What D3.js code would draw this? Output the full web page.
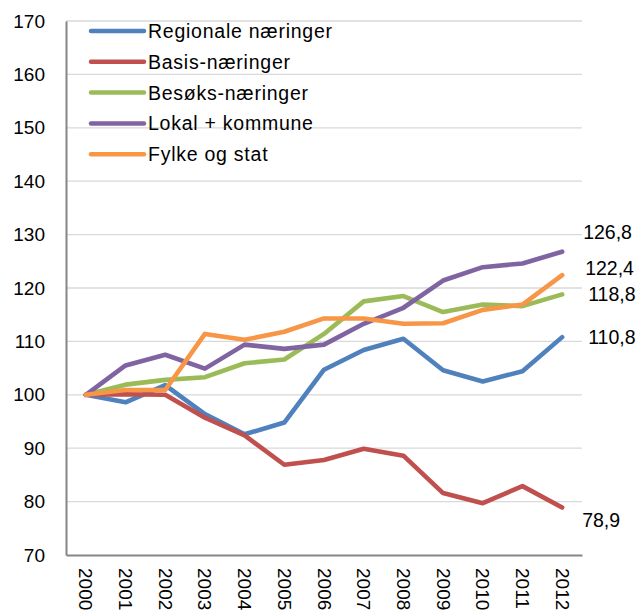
<!DOCTYPE html>
<html><head><meta charset="utf-8">
<script src="https://cdn.jsdelivr.net/npm/d3@7"></script>
<style>
html,body{margin:0;padding:0;background:#fff;}
text{font-family:"Liberation Sans",Arial,sans-serif;fill:#000;}
</style></head>
<body><svg id="c" width="643" height="613"></svg>
<script>
const years = ["2000","2001","2002","2003","2004","2005","2006","2007","2008","2009","2010","2011","2012"];
const seriesNames = ["Regionale næringer","Basis-næringer","Besøks-næringer","Lokal + kommune","Fylke og stat"];
const regionale = [100,98.6,101.8,96.4,92.6,94.8,104.7,108.4,110.5,104.6,102.5,104.4,110.8];
const basis     = [100,100.1,100,95.7,92.4,86.9,87.8,89.9,88.6,81.6,79.7,82.9,78.9];
const besoks    = [100,101.9,102.8,103.3,105.9,106.6,111.4,117.5,118.5,115.5,116.9,116.6,118.8];
const lokal     = [100,105.5,107.5,104.9,109.4,108.6,109.4,113.3,116.3,121.4,123.9,124.6,126.8];
const fylke     = [100,100.9,100.9,111.4,110.3,111.8,114.3,114.3,113.3,113.4,115.9,116.9,122.4];
const colors = ["#4F81BD","#C0504D","#9BBB59","#8064A2","#F79646"];
const yTicks = [70,80,90,100,110,120,130,140,150,160,170];
const endLabels = ["110,8","78,9","118,8","126,8","122,4"];

(function(){
const allSeries = [regionale,basis,besoks,lokal,fylke];
const svg = d3.select("#c");
const mLeft = 66, mRight = 582, mTop = 21, mBottom = 555;
const x = d3.scaleBand().domain(years).range([mLeft,mRight]);
const y = d3.scaleLinear().domain([70,170]).range([mBottom,mTop]);
const cx = d => x(d) + x.bandwidth()/2;

// gridlines
svg.append("g").selectAll("line").data(yTicks.filter(t=>t>70)).join("line")
  .attr("x1",mLeft).attr("x2",mRight).attr("y1",d=>y(d)).attr("y2",d=>y(d))
  .attr("stroke","#D9D9D9").attr("stroke-width",1.3);

// y axis
const yAx = svg.append("g").attr("transform",`translate(${mLeft},0)`)
  .call(d3.axisLeft(y).tickValues(yTicks).tickSize(0).tickPadding(21).tickFormat(d3.format("d")));
yAx.select(".domain").attr("stroke","#868686").attr("stroke-width",2);
yAx.selectAll("text").style("font-size","19px").attr("fill","#000");

// x axis
const xAx = svg.append("g").attr("transform",`translate(0,${mBottom})`)
  .call(d3.axisBottom(x).tickSize(0).tickPadding(0));
xAx.select(".domain").attr("stroke","#868686").attr("stroke-width",2);
xAx.selectAll("text").style("font-size","19px").attr("fill","#000")
  .attr("text-anchor","start").attr("dy",null).attr("y",0)
  .attr("dominant-baseline","central")
  .attr("transform","translate(0,13) rotate(90)");

// lines
const line = d3.line().x((d,i)=>cx(years[i])).y(d=>y(d));
svg.append("g").selectAll("path").data(allSeries).join("path")
  .attr("d",line).attr("fill","none")
  .attr("stroke",(d,i)=>colors[i]).attr("stroke-width",4.6)
  .attr("stroke-linejoin","round").attr("stroke-linecap","round");

// end labels
const labelDy = [0,13,0,-20,-7];
const labelDx = [26,20,26,21,23];
svg.append("g").selectAll("text").data(allSeries).join("text")
  .attr("x",(d,i)=>cx(years[years.length-1]) + labelDx[i])
  .attr("y",(d,i)=>y(d[d.length-1]) + labelDy[i])
  .attr("dominant-baseline","central")
  .style("font-size","19.5px")
  .text((d,i)=>endLabels[i]);

// legend
const lg = svg.append("g");
seriesNames.forEach((n,i)=>{
  const yy = 31 + i*30.8;
  lg.append("line").attr("x1",91).attr("x2",144).attr("y1",yy).attr("y2",yy)
    .attr("stroke",colors[i]).attr("stroke-width",4.5).attr("stroke-linecap","round");
  lg.append("text").attr("x",148).attr("y",yy).attr("dominant-baseline","central")
    .style("font-size","19.5px").style("letter-spacing","0.75px").text(n);
});
})();
</script></body></html>
